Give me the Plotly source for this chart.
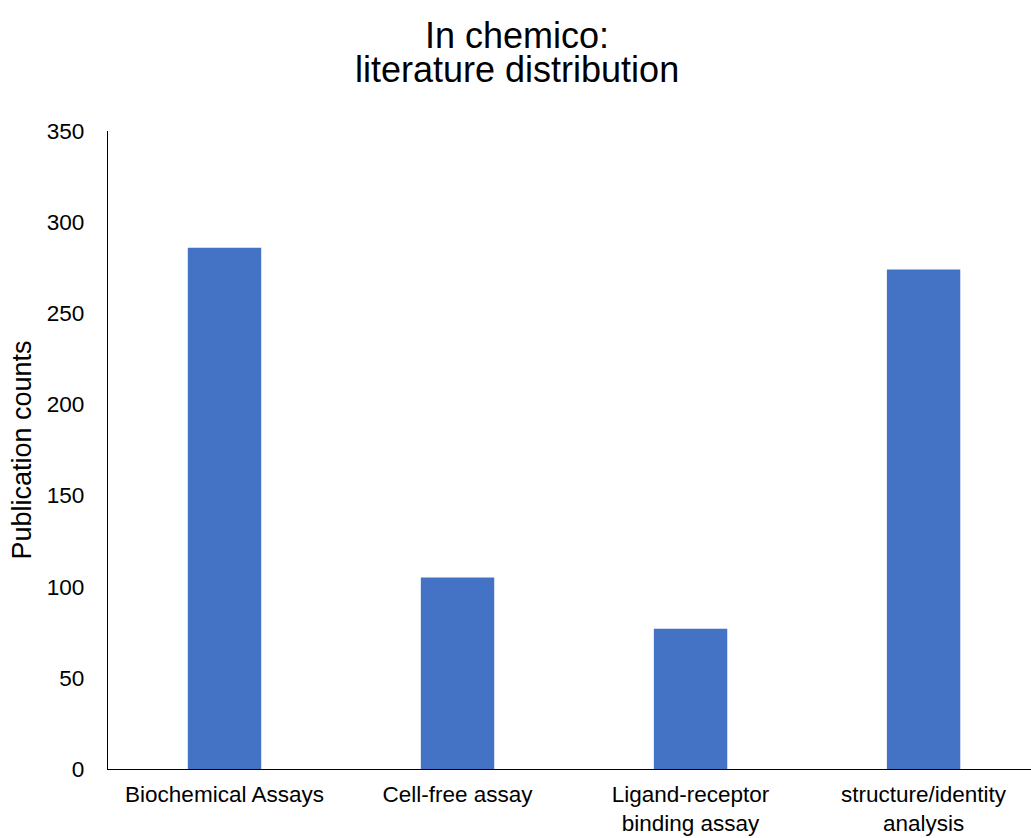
import plotly.graph_objects as go

categories = ["Biochemical Assays", "Cell-free assay", "Ligand-receptor<br>binding assay", "structure/identity<br>analysis"]
counts = [286, 105, 77, 274]
y_ticks = [0, 50, 100, 150, 200, 250, 300, 350]
title_lines = ["In chemico:", "literature distribution"]

font = "Arial, Liberation Sans, sans-serif"

fig = go.Figure()
fig.add_trace(go.Bar(x=list(range(len(categories))), y=counts,
                     marker=dict(color="#4472C4", line=dict(width=0)), width=0.315))

# title as two lines with tight line spacing
for txt, ypos in zip(title_lines, [1.149, 1.097]):
    fig.add_annotation(text=txt, xref="paper", yref="paper", x=0.4426, y=ypos,
                       xanchor="center", yanchor="middle", showarrow=False,
                       font=dict(family=font, size=36, color="black"))

fig.update_layout(
    width=1031, height=838,
    margin=dict(l=108, r=0, t=131, b=69),
    paper_bgcolor="white", plot_bgcolor="white",
    showlegend=False,
    font=dict(family=font, size=22.5, color="black"),
    xaxis=dict(
        tickmode="array", tickvals=list(range(len(categories))), ticktext=categories,
        range=[-0.5, 3.461], showgrid=False, zeroline=False, automargin=False,
        showline=True, linecolor="black", linewidth=1.3, ticks="", ticklabelstandoff=5,
        tickfont=dict(family=font, size=22.5, color="black"),
    ),
    yaxis=dict(
        range=[0, 350], tickmode="array", tickvals=y_ticks, showgrid=False, zeroline=False,
        automargin=False,
        showline=True, linecolor="black", linewidth=1.3, ticks="", ticklabelstandoff=18,
        tickfont=dict(family=font, size=22.6, color="black"),
        title=dict(text="Publication counts", font=dict(family=font, size=27, color="black"), standoff=7),
    ),
)

fig.write_html("out.html")
